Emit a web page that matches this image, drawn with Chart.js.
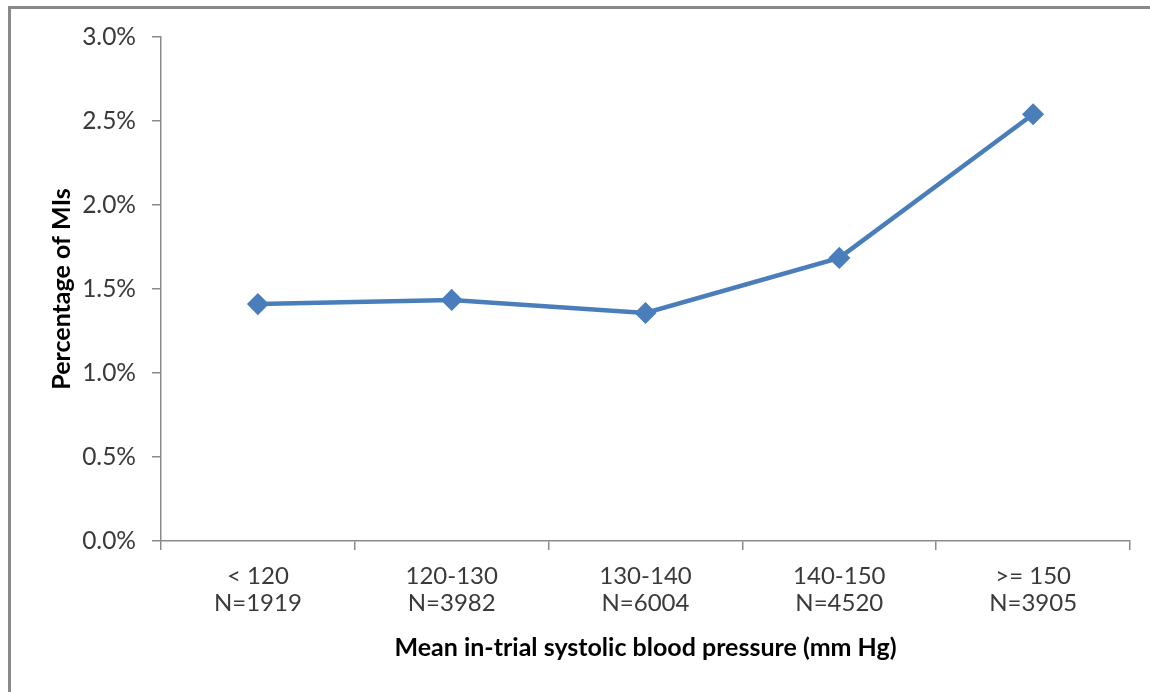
<!DOCTYPE html>
<html>
<head>
<meta charset="utf-8">
<script src="https://cdn.jsdelivr.net/npm/chart.js@4.4.1/dist/chart.umd.min.js"></script>
<style>
  html, body { margin: 0; padding: 0; background: #ffffff; }
  #wrap { position: relative; width: 1150px; height: 692px; overflow: hidden; }
  #frame { position: absolute; left: 8px; top: 6px; width: 1200px; height: 800px;
           border-left: 3px solid #8a8a8a; border-top: 3px solid #8a8a8a; box-sizing: border-box; }
  #c { position: absolute; left: 0; top: 0; }
</style>
</head>
<body>
<div id="wrap">
  <div id="frame"></div>
  <canvas id="c" width="1150" height="692"></canvas>
</div>
<script>
const categories = ['< 120', '120-130', '130-140', '140-150', '>= 150'];
const sampleSizes = ['N=1919', 'N=3982', 'N=6004', 'N=4520', 'N=3905'];
const miPercent = [1.41, 1.435, 1.357, 1.685, 2.54];
const yTicks = { min: 0, max: 3.0, step: 0.5 };

const xLabels = categories.map((c, i) => [c, sampleSizes[i]]);

new Chart(document.getElementById('c'), {
  type: 'line',
  data: {
    labels: xLabels,
    datasets: [{
      data: miPercent,
      borderColor: '#4a7ebb',
      backgroundColor: '#4a7ebb',
      borderWidth: 4.5,
      pointStyle: 'rectRot',
      pointRadius: 10,
      pointHoverRadius: 10,
      pointBorderWidth: 1.5,
      pointBorderColor: '#4a7ebb',
      pointBackgroundColor: '#4a7ebb',
      tension: 0,
      fill: false
    }]
  },
  options: {
    responsive: false,
    animation: false,
    layout: { padding: { left: 30, right: 20, top: 37, bottom: 21 } },
    plugins: { legend: { display: false }, tooltip: { enabled: false } },
    scales: {
      x: {
        type: 'category',
        offset: true,
        grid: { offset: true, drawOnChartArea: false, drawTicks: true, tickLength: 9, color: '#8a8a8a', lineWidth: 1.5 },
        border: { display: true, color: '#8a8a8a', width: 1.5 },
        ticks: { color: '#3a3a3a', padding: 13, maxRotation: 0, autoSkip: false,
                 font: { family: 'Lato', size: 24, lineHeight: 1.125 } },
        title: { display: true, text: 'Mean in-trial systolic blood pressure (mm Hg)', color: '#000000',
                 font: { family: 'Lato', size: 25, weight: 'bold', lineHeight: 1.2 },
                 padding: { top: 0, bottom: 8 } },
        afterFit: (s) => { s.height = 130; }
      },
      y: {
        min: yTicks.min,
        max: yTicks.max,
        grid: { drawOnChartArea: false, drawTicks: true, tickLength: 9, color: '#8a8a8a', lineWidth: 1.5 },
        border: { display: true, color: '#8a8a8a', width: 1.5 },
        ticks: { stepSize: yTicks.step, color: '#3a3a3a', padding: 16,
                 font: { family: 'Lato', size: 24.5 },
                 callback: (v) => Number(v).toFixed(1) + '%' },
        title: { display: true, text: 'Percentage of MIs', color: '#000000',
                 font: { family: 'Lato', size: 25, weight: 'bold', lineHeight: 1.2 },
                 padding: { top: 17, bottom: 0 } },
        afterFit: (s) => { s.width = 131; }
      }
    }
  }
});
</script>
</body>
</html>
